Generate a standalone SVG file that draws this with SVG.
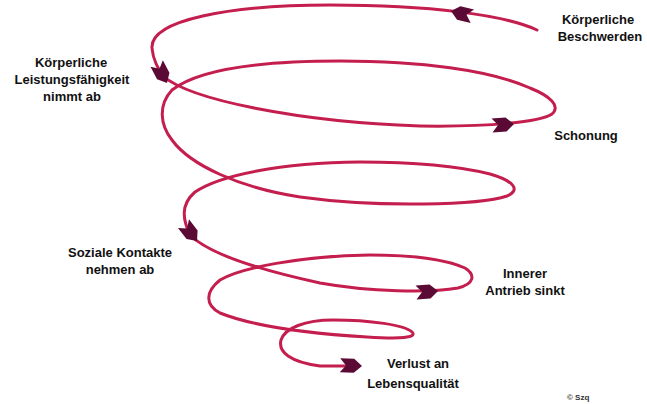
<svg xmlns="http://www.w3.org/2000/svg" width="647" height="404" viewBox="0 0 647 404">
<defs>
<style>
.lbl{font-family:"Liberation Sans",Arial,sans-serif;font-weight:bold;font-size:13px;fill:#111;text-anchor:middle}
.sp{fill:none;stroke:#c41e4e;stroke-width:3;stroke-linecap:round}
.ah{fill:#5a0a34}
</style>
<path id="arr" d="M0,0 L-8,-7 L-22,-7 L-16,0 L-22,7 L-8,7 Z"/>
</defs>
<rect width="647" height="404" fill="#ffffff"/>
<g id="connectors">
<path class="sp" d="M537,30 C505,15 430,5 330,5 C230,5 150,20 152,48 C153,60 158,68 163,76 C190,100 300,122 420,126 C490,127 540,122 552,114 C561,106 550,96 530,88 C490,70 420,61 340,61 C250,61 195,72 172,90 C158,105 160,125 172,140 C190,165 240,188 300,197 C380,208 480,205 507,196 C521,190 514,181 490,174 C450,164 400,162 360,162 C280,163 220,175 195,192 C180,205 183,220 190,235 C210,255 260,270 320,283 C370,292 430,293 458,288 C474,284 476,275 465,268 C440,257 400,255 370,255 C300,256 240,268 220,280 C205,292 205,305 220,313 C250,325 300,333 367,337 C400,339 418,338 412,332 C405,325 370,320 333,320 C305,320 285,328 281,340 C278,352 290,362 320,366 L350,366"/>
<use href="#arr" class="ah" transform="translate(451,11) rotate(194)"/>
<use href="#arr" class="ah" transform="translate(167,83) rotate(62)"/>
<use href="#arr" class="ah" transform="translate(514,124) rotate(-4)"/>
<use href="#arr" class="ah" transform="translate(197,241) rotate(52)"/>
<use href="#arr" class="ah" transform="translate(438,291) rotate(-4)"/>
<use href="#arr" class="ah" transform="translate(362,366) rotate(2)"/>
</g>
<g id="n1"><text class="lbl" x="598" y="24">Körperliche</text><text class="lbl" x="600" y="41">Beschwerden</text></g>
<g id="n2"><text class="lbl" x="71" y="67">Körperliche</text><text class="lbl" x="72" y="84">Leistungsfähigkeit</text><text class="lbl" x="72" y="101">nimmt ab</text></g>
<g id="n3"><text class="lbl" x="586" y="140">Schonung</text></g>
<g id="n4"><text class="lbl" x="120" y="257">Soziale Kontakte</text><text class="lbl" x="120" y="274">nehmen ab</text></g>
<g id="n5"><text class="lbl" x="525" y="278">Innerer</text><text class="lbl" x="525" y="295">Antrieb sinkt</text></g>
<g id="n6"><text class="lbl" x="418" y="368">Verlust an</text><text class="lbl" x="413" y="388">Lebensqualität</text></g>
<g id="copy"><text x="567" y="400" style="font-family:'Liberation Sans',Arial,sans-serif;font-weight:bold;font-size:8px;fill:#333">© Szq</text></g>
</svg>
